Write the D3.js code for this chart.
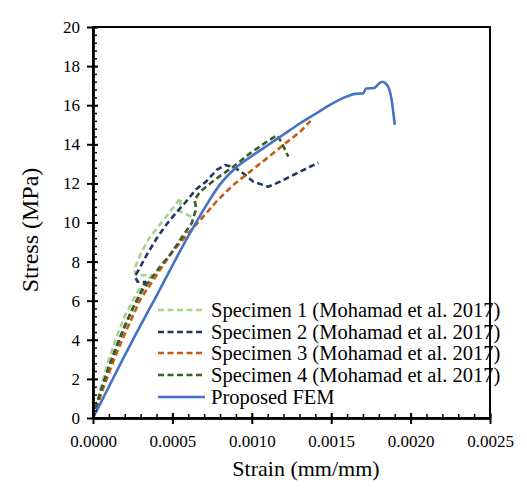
<!DOCTYPE html>
<html>
<head>
<meta charset="utf-8">
<script src="https://cdn.jsdelivr.net/npm/d3@7"></script>
<style>
  html, body { margin: 0; padding: 0; background: #fff; }
  svg { display: block; }
  text { font-family: "Liberation Serif", "Times New Roman", serif; fill: #000; }
</style>
</head>
<body>
<svg id="chart" width="527" height="500"></svg>
<script>
// Stress–strain curves: strain (mm/mm), stress (MPa)
const specimen1 = [
  [0, 0], [0.00005, 1.6], [0.0001, 3.0], [0.00015, 4.2], [0.0002, 5.2], [0.00025, 6.0],
  [0.0003, 6.7], [0.00037, 7.3], [0.00027, 7.3], [0.00026, 7.6], [0.0003, 8.39],
  [0.000353, 9.19], [0.000411, 9.79], [0.00048, 10.5], [0.000537, 11.1], [0.000558, 11.24],
  [0.00054, 10.6], [0.000623, 10.28]
];
const specimen2 = [
  [0, 0], [0.00005, 1.4], [0.0001, 2.6], [0.00015, 3.7], [0.0002, 4.7], [0.00025, 5.6],
  [0.0003, 6.4], [0.00033, 6.95], [0.00028, 6.97], [0.000265, 7.25], [0.0003, 7.77],
  [0.000342, 8.39], [0.000401, 9.19], [0.00046, 9.87], [0.000516, 10.43], [0.00058, 11.01],
  [0.000649, 11.7], [0.000712, 12.09], [0.000779, 12.69], [0.000831, 12.94], [0.000883, 12.85],
  [0.000946, 12.52], [0.00101, 12.09], [0.001104, 11.83], [0.001178, 12.09], [0.001283, 12.52],
  [0.001366, 12.85], [0.001419, 13.06]
];
const specimen3 = [
  [0, 0], [0.00005, 1.2], [0.0001, 2.3], [0.00015, 3.35], [0.0002, 4.3], [0.00025, 5.2],
  [0.0003, 6.1], [0.00038, 7.06], [0.000485, 8.34], [0.00059, 9.36], [0.0007, 10.35],
  [0.00078, 11.1], [0.000883, 11.92], [0.000989, 12.6], [0.001094, 13.28], [0.001198, 13.96],
  [0.001304, 14.64], [0.00137, 15.2]
];
const specimen4 = [
  [0, 0], [0.00005, 1.4], [0.0001, 2.6], [0.00015, 3.7], [0.0002, 4.7], [0.00025, 5.6],
  [0.0003, 6.4], [0.00036, 7.06], [0.000422, 7.74], [0.000485, 8.34], [0.000548, 9.1],
  [0.000621, 9.96], [0.00065, 10.7], [0.00064, 11.15], [0.000674, 11.58], [0.000779, 12.26],
  [0.000883, 12.85], [0.000989, 13.54], [0.001094, 14.13], [0.00116, 14.47], [0.00119, 14.05],
  [0.00123, 13.37]
];
const fem = [
  [0, 0], [0.0001, 1.6], [0.0002, 3.2], [0.0003, 4.75], [0.0004, 6.25], [0.0005, 7.8],
  [0.0006, 9.3], [0.0007, 10.7], [0.0008, 11.95], [0.0009, 12.8], [0.001, 13.4],
  [0.0011, 13.95], [0.0012, 14.5], [0.0013, 15.05], [0.0014, 15.55], [0.0015, 16.05],
  [0.0016, 16.45], [0.00165, 16.58], [0.0017, 16.6], [0.00172, 16.85], [0.00177, 16.88],
  [0.0018, 17.1], [0.00182, 17.2], [0.00185, 17.05], [0.00188, 16.3], [0.0019, 15.0]
];

const seriesNames = [
  "Specimen 1 (Mohamad et al. 2017)",
  "Specimen 2 (Mohamad et al. 2017)",
  "Specimen 3 (Mohamad et al. 2017)",
  "Specimen 4 (Mohamad et al. 2017)",
  "Proposed FEM"
];
const seriesData = [specimen1, specimen2, specimen3, specimen4, fem];
const seriesColors = ["#a9d18e", "#1f3864", "#c55a11", "#3b5e25", "#4472c4"];
const seriesDashed = [true, true, true, true, false];

const xTicks = [0, 0.0005, 0.001, 0.0015, 0.002, 0.0025];
const yTicks = [0, 2, 4, 6, 8, 10, 12, 14, 16, 18, 20];

const svg = d3.select("#chart");
const plotLeft = 93, plotRight = 490, plotTop = 27, plotBottom = 418;

const x = d3.scaleLinear().domain([0, 0.0025]).range([plotLeft, plotRight]);
const y = d3.scaleLinear().domain([0, 20]).range([plotBottom, plotTop]);

const xMinor = d3.range(0, 0.0025 + 1e-9, 0.0001);
const yMinor = d3.range(0, 20 + 1e-9, 0.4);

// plot frame
svg.append("rect")
  .attr("x", plotLeft).attr("y", plotTop)
  .attr("width", plotRight - plotLeft).attr("height", plotBottom - plotTop)
  .attr("fill", "none").attr("stroke", "#000").attr("stroke-width", 2);

// curves
const line = d3.line().x(d => x(d[0])).y(d => y(d[1]));
const lineSmooth = d3.line().x(d => x(d[0])).y(d => y(d[1])).curve(d3.curveMonotoneX);
const plot = svg.append("g");
seriesData.forEach((data, i) => {
  plot.append("path")
    .datum(data)
    .attr("d", seriesDashed[i] ? line : lineSmooth)
    .attr("fill", "none")
    .attr("stroke", seriesColors[i])
    .attr("stroke-width", 2.6)
    .attr("stroke-linejoin", "round")
    .attr("stroke-dasharray", seriesDashed[i] ? "6,3.5" : null);
});

// axes
function styleAxis(g) {
  g.select(".domain").attr("stroke", "#000").attr("stroke-width", 2);
  g.selectAll(".tick line").attr("stroke", "#000").attr("stroke-width", 2);
  g.selectAll("text").style("font-family", '"Liberation Serif", "Times New Roman", serif')
    .style("font-size", "17px").attr("fill", "#000");
}

// y axis: major ticks cross the axis, minor ticks point inward
svg.append("g").attr("transform", `translate(${plotLeft},0)`)
  .call(d3.axisLeft(y).tickValues(yTicks).tickSize(6).tickSizeOuter(0).tickPadding(7).tickFormat(d3.format("d")))
  .call(styleAxis);
svg.append("g").attr("transform", `translate(${plotLeft},0)`)
  .call(d3.axisRight(y).tickValues(yTicks).tickSize(5).tickSizeOuter(0).tickFormat(""))
  .call(styleAxis);
svg.append("g").attr("transform", `translate(${plotLeft},0)`)
  .call(d3.axisRight(y).tickValues(yMinor).tickSize(4).tickSizeOuter(0).tickFormat(""))
  .call(g => { styleAxis(g); g.selectAll(".tick line").attr("stroke-width", 1.5); });

// x axis
svg.append("g").attr("transform", `translate(0,${plotBottom})`)
  .call(d3.axisBottom(x).tickValues(xTicks).tickSize(6).tickSizeOuter(0).tickPadding(11).tickFormat(d3.format(".4f")))
  .call(styleAxis);
svg.append("g").attr("transform", `translate(0,${plotBottom})`)
  .call(d3.axisTop(x).tickValues(xTicks).tickSize(5).tickSizeOuter(0).tickFormat(""))
  .call(styleAxis);
svg.append("g").attr("transform", `translate(0,${plotBottom})`)
  .call(d3.axisTop(x).tickValues(xMinor).tickSize(4).tickSizeOuter(0).tickFormat(""))
  .call(g => { styleAxis(g); g.selectAll(".tick line").attr("stroke-width", 1.5); });

// axis titles
svg.append("text")
  .attr("x", 306).attr("y", 476)
  .attr("text-anchor", "middle")
  .style("font-size", "22px")
  .text("Strain (mm/mm)");
svg.append("text")
  .attr("transform", "translate(38,230) rotate(-90)")
  .attr("text-anchor", "middle")
  .style("font-size", "24px")
  .text("Stress (MPa)");

// legend
const legend = svg.append("g");
const rowY = [310, 332, 353, 375, 397];
seriesNames.forEach((name, i) => {
  legend.append("line")
    .attr("x1", 158).attr("x2", 205)
    .attr("y1", rowY[i]).attr("y2", rowY[i])
    .attr("stroke", seriesColors[i])
    .attr("stroke-width", 2.6)
    .attr("stroke-dasharray", seriesDashed[i] ? "6,3.5" : null);
  legend.append("text")
    .attr("x", 211).attr("y", rowY[i])
    .attr("dy", "0.35em")
    .style("font-size", "20.5px")
    .text(name);
});
</script>
</body>
</html>
